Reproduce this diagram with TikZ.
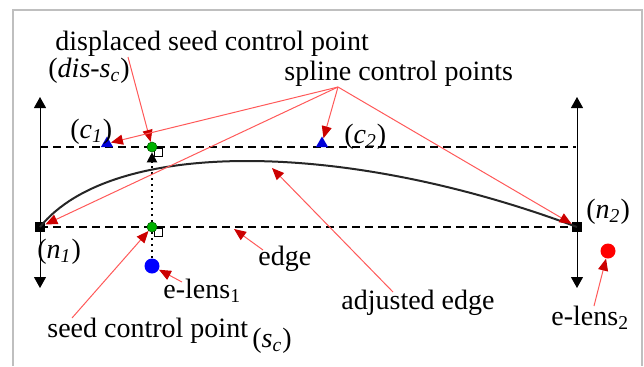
\documentclass[tikz,border=0pt]{standalone}
\usepackage{fontspec}
\setmainfont{Liberation Serif}
\usepackage{tikz}
\usetikzlibrary{calc, arrows.meta, shapes.geometric}

\begin{document}
\begin{tikzpicture}[x=0.5pt, y=-0.5pt, >={Triangle[length=5.5pt, width=6pt]},
    txt/.style={font=\fontsize{14}{16}\selectfont, inner sep=0pt, anchor=base west},
    callout/.style={draw=red!65, line width=0.5pt, -{Triangle[length=6pt, width=5pt, color=red!80!black]}},
    guide/.style={line width=1pt, dash pattern=on 4pt off 2.5pt},
    endpt/.style={fill=black, minimum size=5pt, inner sep=0pt},
    ctrl/.style={regular polygon, regular polygon sides=3, fill=blue!85!black, minimum size=7pt, inner sep=0pt},
    seedpt/.style={circle, fill=green!70!black, draw=green!40!black, line width=0.3pt, minimum size=5pt, inner sep=0pt},
    lens/.style={circle, minimum size=7.5pt, inner sep=0pt}]
    \useasboundingbox (0,0) rectangle (644,366);

    % 1. Khung
    \draw[black!25, line width=1pt] (13,366) -- (13,10) -- (642,10) -- (642,366);

    % 2. Duong ke va truc
    \draw[guide] (40,147) -- (576,147);
    \draw[guide] (40,227) -- (576,227);
    \foreach \x in {40,577} {
        \draw[<->, line width=0.5pt] (\x,97) -- (\x,288);
    }
    \foreach \y in {148,228} {
        \draw[fill=white, line width=0.5pt] (154,\y) rectangle ++(8,8);
    }

    % 3. Cac diem
    \node[endpt] (n1) at (40,227) {};
    \node[endpt] (n2) at (577,227) {};
    \node[ctrl] (c1) at (107,143.5) {};
    \node[ctrl] (c2) at (322,143.5) {};
    \node[lens, fill=blue] (elens1) at (152,266) {};
    \node[lens, fill=red] (elens2) at (608,251) {};
    \node[seedpt] (dsc) at (152,147) {};

    % 4. Canh dieu chinh
    \draw[line width=1pt, black!85] (n1.center) .. controls (112,138) and (345,140) .. (n2.center);
    \draw[dotted, line width=1pt, -{Triangle[length=5pt, width=5pt]}] (elens1) -- (dsc);
    \node[seedpt] (sc) at (152,227) {};

    % 5. Nhan
    \node[txt] (lbldsc) at (55,50) {displaced seed control point};
    \node[txt] (lbldis) at (48,77) {(\textit{dis}-\textit{s}\textsubscript{\textit{c}})};
    \node[txt] (lblspl) at (284,80) {spline control points};
    \node[txt] (lblc1) at (70,138) {(\textit{c}\textsubscript{\textit{1}})};
    \node[txt] (lblc2) at (344,143) {(\textit{c}\textsubscript{\textit{2}})};
    \node[txt] (lbln1) at (37,258) {(\textit{n}\textsubscript{\textit{1}})};
    \node[txt] (lbln2) at (586,218) {(\textit{n}\textsubscript{\textit{2}})};
    \node[txt] (lbledge) at (258,265) {edge};
    \node[txt] (lble1) at (163,298) {e-lens\textsubscript{1}};
    \node[txt] (lbladj) at (341,309) {adjusted edge};
    \node[txt] (lble2) at (551,325) {e-lens\textsubscript{2}};
    \node[txt] (lblsc) at (47,337) {seed control point};
    \node[txt] (lblscs) at (252,347) {(\textit{s}\textsubscript{\textit{c}})};

    % 6. Mui ten chu thich
    \coordinate (dscfrom) at (128,57);
    \coordinate (splfrom) at (338,87);
    \coordinate (edgefrom) at (263,250);
    \coordinate (edgept) at (234,229);
    \coordinate (e1from) at (182,282);
    \coordinate (scfrom) at (72,318);
    \coordinate (adjfrom) at (393,292);
    \coordinate (adjpt) at (272,168);
    \coordinate (e2from) at (594,306);
    \draw[callout] (dscfrom) -- (dsc);
    \foreach \p in {c1,c2,n1,n2} {
        \draw[callout] (splfrom) -- (\p);
    }
    \draw[callout] (edgefrom) -- (edgept);
    \draw[callout] (e1from) -- (elens1);
    \draw[callout] (scfrom) -- (sc);
    \draw[callout] (adjfrom) -- (adjpt);
    \draw[callout] (e2from) -- (elens2);
\end{tikzpicture}
\end{document}
